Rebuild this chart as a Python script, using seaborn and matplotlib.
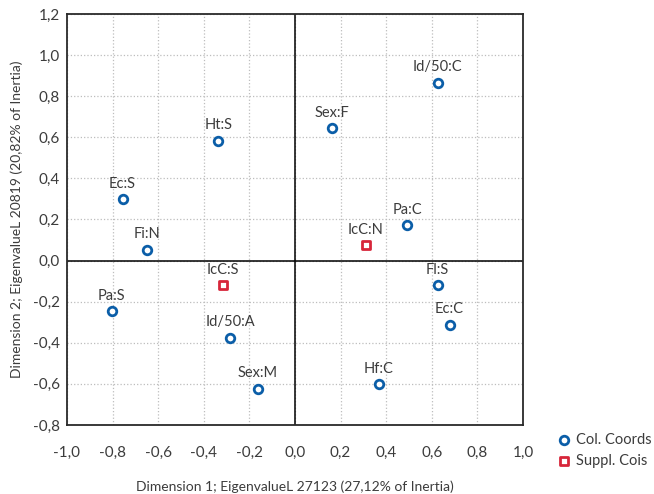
import pandas as pd
import matplotlib.pyplot as plt
import seaborn as sns
from matplotlib.ticker import FuncFormatter, MultipleLocator

# ------------------------------------------------------- #
#                          DATOS                          #
# ------------------------------------------------------- #
col_labels = ['Ht:S', 'Ec:S', 'Fi:N', 'Sex:F', 'Id/50:C', 'Pa:C', 'Pa:S',
              'Id/50:A', 'Sex:M', 'Fl:S', 'Ec:C', 'Hf:C']
col_dim1 = [-0.337, -0.756, -0.650, 0.162, 0.626, 0.493, -0.803,
            -0.285, -0.164, 0.626, 0.678, 0.367]
col_dim2 = [0.583, 0.298, 0.053, 0.645, 0.866, 0.172, -0.245,
            -0.375, -0.623, -0.119, -0.312, -0.600]

sup_labels = ['IcC:N', 'IcC:S']
sup_dim1 = [0.310, -0.317]
sup_dim2 = [0.074, -0.119]

col = pd.DataFrame({'d1': col_dim1, 'd2': col_dim2, 'lab': col_labels})
sup = pd.DataFrame({'d1': sup_dim1, 'd2': sup_dim2, 'lab': sup_labels})

azul = '#0b5ea8'
rojo = '#d7263a'
gris = '#3c3c3c'

sns.set_style('white')
plt.rcParams['font.family'] = ['Lato', 'DejaVu Sans']
plt.rcParams['text.color'] = gris

# ------------------------------------------------------- #
#                         GRAFICO                         #
# ------------------------------------------------------- #
fig = plt.figure(figsize=(6.54, 4.94), dpi=100)
ax = fig.add_axes([0.1024, 0.1397, 0.6973, 0.8320])

ax.axhline(0, color='black', lw=1.1, zorder=1)
ax.axvline(0, color='black', lw=1.1, zorder=1)

sns.scatterplot(data=col, x='d1', y='d2', ax=ax, marker='o', s=38,
                facecolor='white', edgecolor=azul, linewidth=2,
                label='Col. Coords', zorder=3)
sns.scatterplot(data=sup, x='d1', y='d2', ax=ax, marker='s', s=36,
                facecolor='white', edgecolor=rojo, linewidth=2,
                label='Suppl. Cois', zorder=3)

for df in (col, sup):
    for _, r in df.iterrows():
        ax.annotate(r['lab'], (r['d1'], r['d2']), xytext=(0, 6),
                    textcoords='offset points', ha='center', va='bottom',
                    fontsize=10.5, color=gris)

ax.set_xlim(-1.0, 1.0)
ax.set_ylim(-0.8, 1.2)
ax.xaxis.set_major_locator(MultipleLocator(0.2))
ax.yaxis.set_major_locator(MultipleLocator(0.2))
coma = FuncFormatter(lambda v, p: f'{v:.1f}'.replace('.', ',').replace('-0,0', '0,0'))
ax.xaxis.set_major_formatter(coma)
ax.yaxis.set_major_formatter(coma)
ax.tick_params(length=0, labelsize=11, labelcolor=gris)
ax.tick_params(axis='x', pad=15)
ax.tick_params(axis='y', pad=5)

ax.grid(True, color='#bdbdbd', linestyle=':', linewidth=0.9)
ax.set_axisbelow(True)
for s in ax.spines.values():
    s.set_color('#2a2a2a')
    s.set_linewidth(1.3)

ax.set_xlabel('Dimension 1; EigenvalueL 27123 (27,12% of Inertia)',
              fontsize=10, color=gris, labelpad=15)
ax.set_ylabel('Dimension 2; EigenvalueL 20819 (20,82% of Inertia)',
              fontsize=10, color=gris, labelpad=7)

h, l = ax.get_legend_handles_labels()
ax.legend_.remove()
fig.legend(h, l, loc='upper left', bbox_to_anchor=(0.84, 0.135),
           frameon=False, fontsize=10.5, handletextpad=0.2,
           labelspacing=0.45, borderaxespad=0, handlelength=1.2,
           labelcolor=gris)

plt.savefig('out.png', dpi=100)
